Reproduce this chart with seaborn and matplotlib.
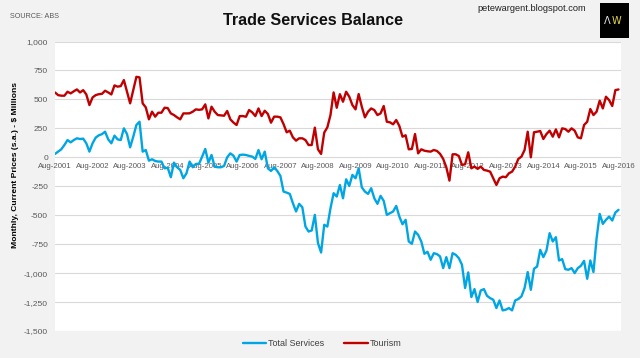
import numpy as np
import pandas as pd
import matplotlib
matplotlib.use("Agg")
import matplotlib.pyplot as plt
import seaborn as sns
from matplotlib.patches import Rectangle
from matplotlib.lines import Line2D

tick_labels = ["Aug-2001", "Aug-2002", "Aug-2003", "Aug-2004", "Aug-2005", "Aug-2006",
               "Aug-2007", "Aug-2008", "Aug-2009", "Aug-2010", "Aug-2011", "Aug-2012",
               "Aug-2013", "Aug-2014", "Aug-2015", "Aug-2016"]

total_services = [
    29, 49, 69, 106, 149, 129, 149, 164, 158, 161, 121, 49, 121, 170, 190, 200, 221, 155, 121, 187,
    155, 149, 250, 201, 86, 178, 279, 307, 49, 63, -29, -17, -32, -37, -37, -95, -90, -172, -46, -86,
    -109, -181, -138, -37, -86, -57, -57, 6, 72, -46, 20, -80, -86, -86, -75, 0, 34, 14, -37, 20,
    23, 20, 12, 6, -14, 63, -17, 49, -95, -118, -86, -118, -161, -296, -305, -316, -397, -468, -402, -431,
    -598, -641, -632, -497, -741, -822, -583, -598, -440, -310, -339, -239, -354, -190, -247, -152, -181, -95, -259, -296,
    -316, -267, -354, -402, -333, -376, -497, -483, -468, -420, -512, -578, -540, -727, -747, -641, -670, -727, -833, -816,
    -885, -828, -836, -856, -957, -862, -957, -828, -842, -871, -928, -1129, -994, -1207, -1138, -1250, -1150, -1138, -1196, -1216,
    -1230, -1302, -1236, -1322, -1316, -1302, -1322, -1236, -1224, -1201, -1129, -991, -1144, -963, -943, -799, -862, -805, -655, -727,
    -690, -891, -879, -966, -971, -957, -1000, -957, -937, -894, -1049, -891, -991, -700, -489, -575, -540, -512, -546, -477,
    -454]

tourism = [
    560, 537, 532, 532, 566, 552, 570, 586, 560, 580, 543, 451, 517, 537, 545, 548, 575, 560, 543, 621,
    610, 615, 667, 566, 466, 580, 695, 690, 466, 431, 328, 394, 351, 385, 385, 428, 425, 379, 365, 345,
    328, 379, 379, 380, 394, 414, 410, 414, 457, 336, 437, 394, 365, 362, 359, 400, 328, 300, 279, 356,
    356, 350, 408, 388, 356, 422, 356, 402, 374, 299, 351, 351, 345, 287, 216, 230, 172, 144, 164, 164,
    149, 106, 106, 256, 69, 29, 213, 259, 365, 560, 428, 545, 480, 566, 523, 451, 414, 546, 437, 345,
    394, 422, 408, 365, 379, 443, 307, 302, 285, 322, 270, 178, 190, 69, 72, 201, 34, 69, 57, 52,
    49, 63, 55, 30, -14, -86, -201, 26, 26, 11, -66, -60, 43, -95, -80, -100, -80, -109, -115, -124,
    -181, -239, -181, -167, -172, -138, -124, -80, -14, 6, 63, 221, 0, 216, 221, 227, 158, 201, 230, 178,
    241, 172, 250, 244, 221, 250, 230, 172, 164, 279, 307, 417, 365, 394, 489, 422, 523, 494, 443, 580,
    586]

series_names = ["Total Services", "Tourism"]
colors = {"Total Services": "#00a6e4", "Tourism": "#c00000"}

n = len(tourism)
month_idx = list(range(n))
df = pd.DataFrame({
    "month": month_idx + month_idx,
    "value": total_services + tourism,
    "series": [series_names[0]] * n + [series_names[1]] * n,
})

sns.set_style("white")
narrow = ["Liberation Sans Narrow", "Liberation Sans", "DejaVu Sans"]
plt.rcParams["font.family"] = narrow

W, H = 640, 358
fig = plt.figure(figsize=(6.4, 3.58), dpi=100, facecolor="#f2f2f2")
ax = fig.add_axes([55 / W, 1 - 331 / H, (621 - 55) / W, (331 - 41.5) / H])
ax.set_facecolor("white")

sns.lineplot(data=df, x="month", y="value", hue="series", palette=colors,
             linewidth=1.7, ax=ax, legend=False)

for s in ["top", "right", "left"]:
    ax.spines[s].set_visible(False)
ax.spines["bottom"].set_position(("data", 0))
ax.spines["bottom"].set_visible(False)

ax.set_xlim(0, 180.8)
ax.set_ylim(-1500, 1000)
yt = list(range(-1500, 1001, 250))
ax.set_yticks(yt)
ax.set_yticklabels([f"{v:,}" for v in yt])
ax.set_xticks(list(range(0, n, 12)))
ax.set_xticklabels(tick_labels)
ax.tick_params(axis="both", length=0, labelsize=6, labelcolor="#595959")
ax.tick_params(axis="x", labelsize=5.6, pad=4)
ax.tick_params(axis="y", pad=5)
ax.yaxis.grid(True, color="#d9d9d9", linewidth=0.8)
ax.xaxis.grid(False)
ax.set_axisbelow(True)
ax.set_xlabel("")
ax.set_ylabel("")

fig.text(16 / W, 1 - 165 / H, "Monthly, Current Prices (s.a.) - $ Millions",
         rotation=90, ha="center", va="center", fontsize=6.1, fontweight="bold", color="black")

fig.text(313 / W, 1 - 20.5 / H, "Trade Services Balance", ha="center", va="center",
         fontsize=11.6, fontweight="bold", color="#111111")
fig.text(10 / W, 1 - 16 / H, "SOURCE: ABS", ha="left", va="center", fontsize=5.2, color="#595959")
fig.text(532 / W, 1 - 8.5 / H, "petewargent.blogspot.com", ha="center", va="center",
         fontsize=6.7, color="#222222")

fig.patches.append(Rectangle((600 / W, 1 - 38 / H), 29 / W, 35 / H, transform=fig.transFigure,
                             facecolor="black", edgecolor="none"))
fig.text(611 / W, 1 - 21 / H, "Λ", ha="right", va="center", fontsize=7, color="#e8e8e8",
         family=["DejaVu Sans"])
fig.text(611.5 / W, 1 - 21 / H, "W", ha="left", va="center", fontsize=7, color="#e6d84a",
         family=["DejaVu Sans"])

handles = [Line2D([0], [0], color=colors[s], linewidth=1.7) for s in series_names]
fig.legend(handles, series_names, loc="center", bbox_to_anchor=(322 / W, 1 - 344 / H),
           ncol=2, frameon=False, fontsize=6.5, handlelength=2.6, handletextpad=0.2,
           columnspacing=2.2, labelcolor="#404040")

fig.savefig("out.png", dpi=100, facecolor=fig.get_facecolor())
